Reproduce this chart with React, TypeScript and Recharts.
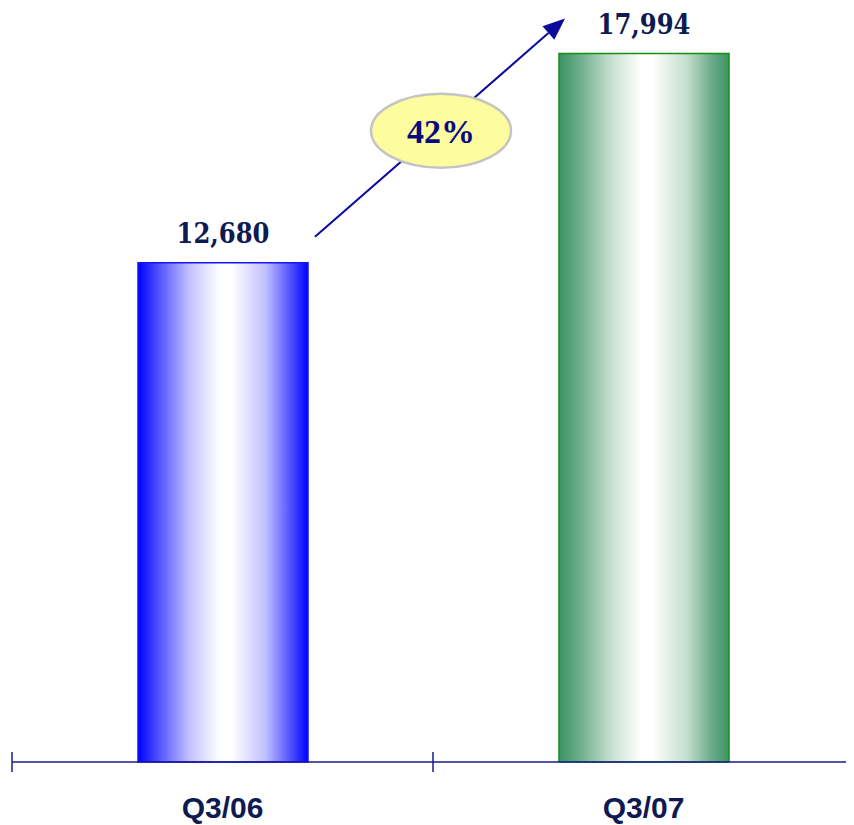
import React from 'react';
import { BarChart, Bar, XAxis, YAxis, LabelList, Cell } from 'recharts';

const categories = ['Q3/06', 'Q3/07'];
const values = [12680, 17994];
const valueLabels = ['12,680', '17,994'];
const growthLabel = '42%';
const yDomain = [0, 19000];

const CHART_W = 846;
const CHART_H = 817;
const X_AXIS_H = 30;
const MARGIN = { top: 6, right: 0, left: 4, bottom: 63 - X_AXIS_H };
const PLOT_W = CHART_W - MARGIN.left - MARGIN.right;
const BAND = PLOT_W / categories.length;

const fills = ['url(#gradBlue)', 'url(#gradGreen)'];
const strokes = ['#1414ff', '#129012'];

const data = categories.map((c, i) => ({ cat: c, value: values[i] }));

const NAVY = '#0e1a52';

const ValueLabel = (props: any) => {
  const x = Number(props.x);
  const y = Number(props.y);
  const width = Number(props.width);
  const height = Number(props.height);
  const index = props.index;
  const cx = x + width / 2;
  const parts: any[] = [
    <text
      key="v"
      x={cx}
      y={y - 20}
      textAnchor="middle"
      fill={NAVY}
      fontFamily="'DejaVu Serif', serif"
      fontStretch="condensed"
      fontWeight="bold"
      fontSize={27}
    >
      {valueLabels[index]}
    </text>,
  ];
  if (index === 0) {
    const bottom = y + height;
    const y2top = bottom - (height * values[1]) / values[0];
    const sx = x + width + 7;
    const sy = y - 26;
    const ex = x + BAND + 6;
    const ey = y2top - 35;
    const dx = ex - sx;
    const dy = ey - sy;
    const len = Math.sqrt(dx * dx + dy * dy);
    const ux = dx / len;
    const uy = dy / len;
    const headL = 22;
    const headW = 9;
    const bx = ex - ux * headL;
    const by = ey - uy * headL;
    const px = -uy;
    const py = ux;
    const mx = (sx + ex) / 2 + 1;
    const my = (sy + ey) / 2 + 3;
    parts.push(
      <g key="arrow">
        <line x1={sx} y1={sy} x2={bx} y2={by} stroke="#0a0a9c" strokeWidth={2} />
        <polygon
          points={`${ex},${ey} ${bx + px * headW},${by + py * headW} ${bx - px * headW},${by - py * headW}`}
          fill="#0a0a9c"
        />
        <ellipse cx={mx} cy={my} rx={70} ry={37} fill="#fdfc9e" stroke="#c4c4c4" strokeWidth={2.5} />
        <text
          x={mx}
          y={my + 12}
          textAnchor="middle"
          fill="#0a0a80"
          fontFamily="'Liberation Serif', serif"
          fontWeight="bold"
          fontSize={34}
        >
          {growthLabel}
        </text>
      </g>
    );
  }
  return <g>{parts}</g>;
};

const CatTick = (props: any) => {
  const x = Number(props.x);
  const y = Number(props.y);
  const tx = x - BAND / 2;
  return (
    <g>
      <line x1={tx} y1={y - 10} x2={tx} y2={y + 10} stroke="#1a1a8c" strokeWidth={1.5} />
      <text
        x={x}
        y={y + 56}
        textAnchor="middle"
        fill={NAVY}
        fontFamily="'Liberation Sans', Arial, sans-serif"
        fontWeight="bold"
        fontSize={30}
      >
        {props.payload.value}
      </text>
    </g>
  );
};

export default function App() {
  return (
    <div style={{ width: CHART_W, height: CHART_H }}>
      <BarChart width={CHART_W} height={CHART_H} data={data} margin={MARGIN}>
        <defs>
          <linearGradient id="gradBlue" x1="0" y1="0" x2="1" y2="0">
            <stop offset="0%" stopColor="#0000ff" />
            <stop offset="12%" stopColor="#5050ff" />
            <stop offset="30%" stopColor="#c0c0ff" />
            <stop offset="48%" stopColor="#ffffff" />
            <stop offset="55%" stopColor="#ffffff" />
            <stop offset="75%" stopColor="#c0c0ff" />
            <stop offset="90%" stopColor="#5050ff" />
            <stop offset="100%" stopColor="#0000ff" />
          </linearGradient>
          <linearGradient id="gradGreen" x1="0" y1="0" x2="1" y2="0">
            <stop offset="0%" stopColor="#3a9464" />
            <stop offset="12%" stopColor="#6aac88" />
            <stop offset="30%" stopColor="#c4dfcf" />
            <stop offset="48%" stopColor="#ffffff" />
            <stop offset="55%" stopColor="#ffffff" />
            <stop offset="75%" stopColor="#c4dfcf" />
            <stop offset="90%" stopColor="#6aac88" />
            <stop offset="100%" stopColor="#3a9464" />
          </linearGradient>
        </defs>
        <YAxis hide domain={yDomain} />
        <XAxis
          dataKey="cat"
          height={X_AXIS_H}
          axisLine={{ stroke: '#1a1a8c', strokeWidth: 1.5 }}
          tickLine={false}
          tickSize={0}
          tickMargin={0}
          tick={<CatTick />}
          interval={0}
        />
        <Bar dataKey="value" barSize={170} isAnimationActive={false}>
          {data.map((d, i) => (
            <Cell key={d.cat} fill={fills[i]} stroke={strokes[i]} strokeWidth={1.5} />
          ))}
          <LabelList dataKey="value" content={<ValueLabel />} />
        </Bar>
      </BarChart>
    </div>
  );
}
